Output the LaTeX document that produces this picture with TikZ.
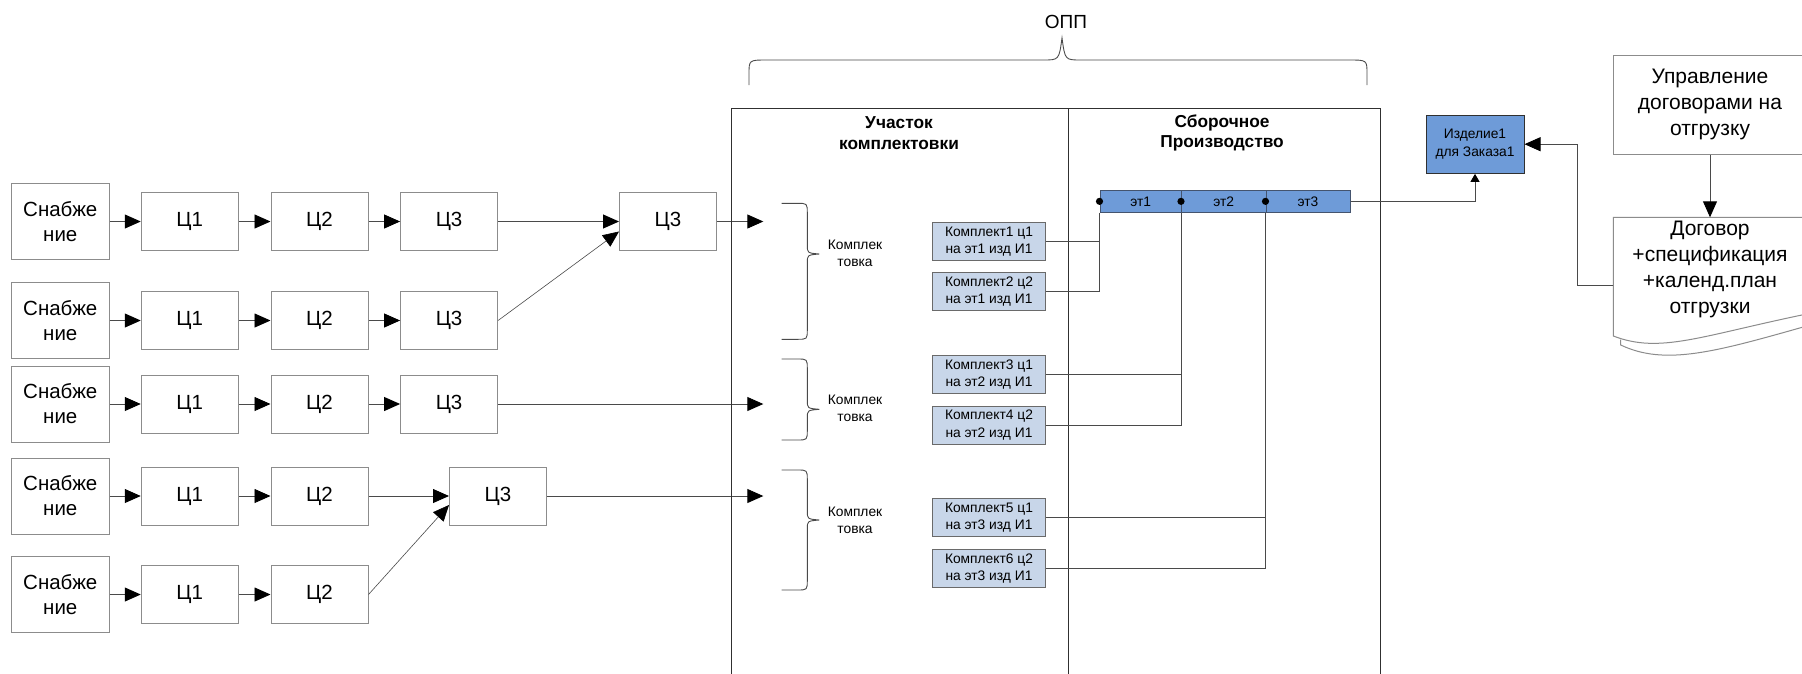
\documentclass[tikz,border=0pt]{standalone}
\usepackage{fontspec}
\setmainfont{Liberation Sans}
\usetikzlibrary{arrows.meta,calc}

\definecolor{lineclr}{HTML}{4A4A4A}
\definecolor{boxclr}{HTML}{8C8C8C}
\definecolor{frameclr}{HTML}{303030}
\definecolor{kitfill}{HTML}{C8D6E9}
\definecolor{kitline}{HTML}{6A6A6A}
\definecolor{stagefill}{HTML}{6E9BD8}
\definecolor{stageline}{HTML}{44546E}

% draws a right-hand curly brace: top end, tip, bottom end
\newcommand{\kbrace}[3]{%
  \draw[brc] (781.7,#1) -- (797,#1) .. controls (807.3,#1) .. (807.3,{#1+10})
    -- (807.3,{#2-9}) .. controls (807.3,{#2-1}) .. (819.3,#2)
    .. controls (807.3,{#2+1}) .. (807.3,{#2+9})
    -- (807.3,{#3-10}) .. controls (807.3,#3) .. (797,#3) -- (781.7,#3);}

\begin{document}
\begin{tikzpicture}[x=1pt,y=-1pt,
  proc/.style={draw=boxclr,line width=1pt,fill=white,minimum width=97pt,
    minimum height=58pt,inner sep=0pt,align=center,
    font=\fontsize{20.5}{25}\selectfont},
  supply/.style={proc,minimum width=98pt,minimum height=76pt},
  kit/.style={draw=kitline,line width=1pt,fill=kitfill,minimum width=113.4pt,
    minimum height=37.7pt,inner sep=0pt,align=center,
    font=\fontsize{13.8}{17.5}\selectfont},
  stagebox/.style={draw=stageline,line width=1pt,fill=stagefill,
    minimum height=21.7pt,inner sep=0pt,anchor=north west,
    font=\fontsize{13.8}{16}\selectfont},
  label/.style={inner sep=0pt,align=center},
  conn/.style={draw=lineclr,line width=0.9pt},
  arr/.style={conn,-{Triangle[length=16pt,width=14pt,color=black]}},
  arrthin/.style={draw=lineclr,line width=0.6pt,-{Triangle[length=16pt,width=14pt,color=black]}},
  brc/.style={draw=lineclr,line width=0.9pt},
  frame/.style={draw=frameclr,line width=1pt},
]
\path[use as bounding box] (0,0) rectangle (1802,673);
\fill[white] (0,0) rectangle (1802,673);
\clip (0,0) rectangle (1802,673);

% supply chains
\foreach \r/\y in {1/221.5,2/320.5,3/404,4/496,5/594.5}{
  \node[supply] (s\r) at (60.3,\y) {Снабже\\ние};
  \node[proc] (a\r) at (189.75,\y) {Ц1};
  \node[proc] (b\r) at (319.5,\y) {Ц2};
  \draw[arr] (s\r) -- (a\r);
  \draw[arr] (a\r) -- (b\r);
}
\foreach \r/\y in {1/221.5,2/320.5,3/404}{
  \node[proc] (c\r) at (449.1,\y) {Ц3};
  \draw[arr] (b\r) -- (c\r);
}
\node[proc] (c4) at (498,496) {Ц3};
\node[proc] (bigc) at (668,221.5) {Ц3};

\draw[arr] (c1) -- (bigc);
\draw[arrthin] (c2.east) -- ($(bigc.west)+(0,10)$);
\draw[arr] (b4) -- (c4);
\draw[arrthin] (b5.east) -- ($(c4.west)+(0,9)$);

\coordinate (in1) at (763.3,221.5);
\coordinate (in2) at (763.3,404);
\coordinate (in3) at (763.3,496);
\draw[arr] (bigc) -- (in1);
\draw[arr] (c3) -- (in2);
\draw[arr] (c4) -- (in3);

% production area
\draw[frame] (731,690) -- (731,108.3) -- (1380,108.3) -- (1380,690);
\draw[frame] (1068.3,108.3) -- (1068.3,690);
\node[label,font=\bfseries\fontsize{17.3}{20.5}\selectfont] (hdr1) at (899,133) {Участок\\комплектовки};
\node[label,font=\bfseries\fontsize{17.3}{20.5}\selectfont] (hdr2) at (1222,133) {Сборочное\\Производство};

% top brace
\draw[brc] (749,85) -- (749,74) .. controls (749,60) .. (767,60) -- (1043,60)
  .. controls (1059,60) .. (1062,38) .. controls (1065,60) .. (1081,60)
  -- (1349,60) .. controls (1367,60) .. (1367,74) -- (1367,85);
\node[label,font=\fontsize{19}{22}\selectfont] (opp) at (1066,21.7) {ОПП};

% kitting braces
\kbrace{203.3}{254}{339.3}
\kbrace{359}{409.3}{440}
\kbrace{470}{520}{590}
\node[label,font=\fontsize{13.8}{17}\selectfont] (t1) at (855,253.4) {Комплек\\товка};
\node[label,font=\fontsize{13.8}{17}\selectfont] (t2) at (855,408.7) {Комплек\\товка};
\node[label,font=\fontsize{13.8}{17}\selectfont] (t3) at (855,520.4) {Комплек\\товка};

% kits
\node[kit] (k1) at (989,241.7) {Комплект1 ц1\\на эт1 изд И1};
\node[kit] (k2) at (989,291.5) {Комплект2 ц2\\на эт1 изд И1};
\node[kit] (k3) at (989,374.5) {Комплект3 ц1\\на эт2 изд И1};
\node[kit] (k4) at (989,425.2) {Комплект4 ц2\\на эт2 изд И1};
\node[kit] (k5) at (989,517.8) {Комплект5 ц1\\на эт3 изд И1};
\node[kit] (k6) at (989,568.7) {Комплект6 ц2\\на эт3 изд И1};

% assembly stages
\node[stagebox,minimum width=81.5pt] (e1) at (1099.5,190) {эт1};
\node[stagebox,minimum width=84.5pt] (e2) at (1181,190) {эт2};
\node[stagebox,minimum width=84pt] (e3) at (1265.5,190) {эт3};

\draw[conn] (k1.east) -- (k1.east -| e1.south west);
\draw[conn] (e1.south west) |- (k2.east);
\draw[conn] (k3.east) -- (k3.east -| e2.south west);
\draw[conn] (e2.south west) |- (k4.east);
\draw[conn] (k5.east) -- (k5.east -| e3.south west);
\draw[conn] (e3.south west) |- (k6.east);
\foreach \e in {e1,e2,e3}{\fill[black] (\e.west) circle (3.6pt);}

% product and contracts
\node[draw=frameclr,line width=1pt,fill=stagefill,minimum width=98pt,
  minimum height=58.3pt,inner sep=0pt,align=center,
  font=\fontsize{13.8}{17.5}\selectfont] (izd) at (1475,144.2) {Изделие1\\для Заказа1};
\draw[conn,-{Triangle[length=8pt,width=9pt,color=black]}] (e3.east) -| (izd.south);

\node[draw=boxclr,line width=1pt,fill=white,minimum width=193.4pt,
  minimum height=98.3pt,inner sep=0pt,align=center,
  font=\fontsize{21}{26}\selectfont] (upr) at (1710,104.85)
  {Управление\\договорами на\\отгрузку};

\draw[boxclr,line width=1pt,fill=white] (1806.7,217.3) -- (1613.3,217.3) -- (1613.3,336)
  .. controls (1660,354) and (1700,336) .. (1806.7,314) -- cycle;
\draw[boxclr,line width=1pt] (1620.7,339.5) -- (1620.7,345)
  .. controls (1665,366) and (1715,352) .. (1806.7,326);
\node[label,font=\fontsize{21}{26}\selectfont] (dog) at (1710,269.4)
  {Договор\\+спецификация\\+календ.план\\отгрузки};
\coordinate (dogtop) at (1710,217.3);
\coordinate (dogw) at (1613.3,285);

\draw[arr] (upr.south) -- (dogtop);
\draw[arr] (dogw) -- ++(-36.3,0) |- (izd.east);
\end{tikzpicture}
\end{document}
